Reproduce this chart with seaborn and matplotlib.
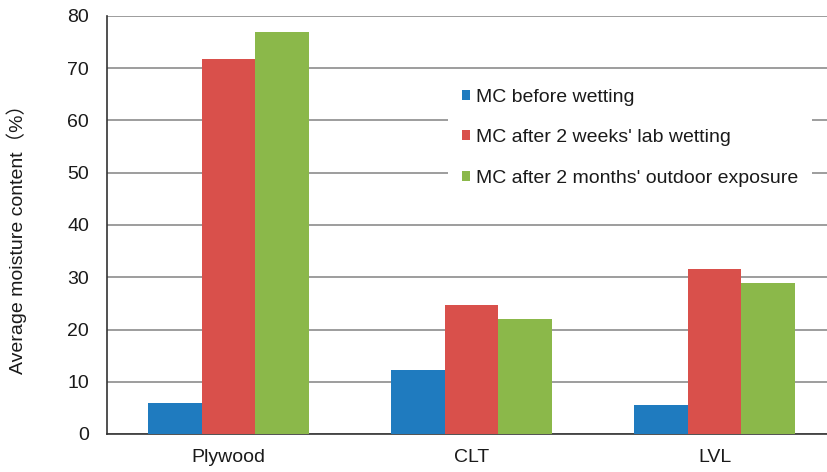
import matplotlib
matplotlib.use("Agg")
import matplotlib.pyplot as plt
import seaborn as sns
import pandas as pd

# Moisture content per product, three measurement stages
products = ["Plywood", "CLT", "LVL"]
mc_before = [5.9, 12.2, 5.5]
mc_lab_wetting = [71.7, 24.6, 31.6]
mc_outdoor = [76.9, 22.0, 28.9]
series_names = [
    "MC before wetting",
    "MC after 2 weeks' lab wetting",
    "MC after 2 months' outdoor exposure",
]
y_ticks = [0, 10, 20, 30, 40, 50, 60, 70, 80]
colors = ["#1F7BBF", "#D9504B", "#8BB84A"]

rows = []
for name, vals in zip(series_names, [mc_before, mc_lab_wetting, mc_outdoor]):
    for p, v in zip(products, vals):
        rows.append({"product": p, "stage": name, "mc": v})
df = pd.DataFrame(rows)

sns.set_theme(style="white")
plt.rcParams["font.family"] = ["Liberation Sans", "Noto Sans CJK JP", "DejaVu Sans"]

fig = plt.figure(figsize=(8.28, 4.72), dpi=100)
ax = fig.add_axes([107 / 828, 38 / 472, 721 / 828, 418 / 472])

sns.barplot(data=df, x="product", y="mc", hue="stage", order=products,
            hue_order=series_names, palette=colors, width=0.663,
            saturation=1, errorbar=None, ax=ax, zorder=3, linewidth=0)

ax.set_ylim(0, 80)
ax.set_xlim(-0.5, 2.467)
ax.set_yticks(y_ticks)
ax.set_yticklabels([str(t) for t in y_ticks], fontsize=14, color="#1a1a1a")
ax.tick_params(axis="y", length=4, width=1.1, color="#888888", pad=9)
ax.tick_params(axis="x", length=0, pad=11, labelsize=14, labelcolor="#1a1a1a")
ax.set_xlabel("")
ax.set_ylabel("Average moisture content（%）", fontsize=14, color="#1a1a1a")
ax.yaxis.set_label_coords(-0.111, 0.478)

ax.grid(axis="y", color="#8c8c8c", linewidth=1.2, zorder=0)
ax.set_axisbelow(True)
for side in ["top", "right"]:
    ax.spines[side].set_visible(False)
for side in ["left", "bottom"]:
    ax.spines[side].set_color("#333333")
    ax.spines[side].set_linewidth(1.2)

leg = ax.legend(loc="upper left", bbox_to_anchor=(0.473, 0.859),
                borderaxespad=0, fontsize=14, frameon=True, framealpha=1,
                facecolor="white", edgecolor="none", fancybox=False,
                handlelength=0.42, handleheight=0.42, handletextpad=0.3,
                labelspacing=1.21, borderpad=0.7)
for t in leg.get_texts():
    t.set_color("#1a1a1a")
leg.set_zorder(5)

fig.savefig("out.png", dpi=100)
